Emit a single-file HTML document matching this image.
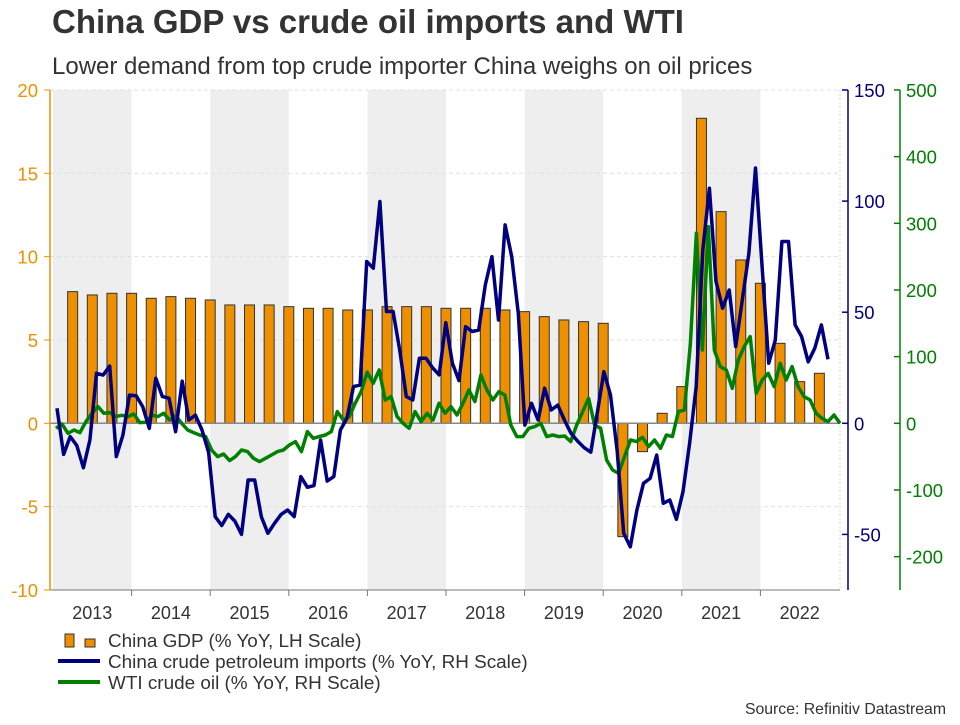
<!DOCTYPE html>
<html><head><meta charset="utf-8"><style>
body{margin:0;background:#fff;font-family:"Liberation Sans",Arial,sans-serif}
svg text{font-family:"Liberation Sans",Arial,sans-serif}
</style></head><body>
<svg id="chart" width="960" height="720" viewBox="0 0 960 720" xmlns="http://www.w3.org/2000/svg">
<text x="52" y="33" font-size="33" font-weight="bold" fill="#333">China GDP vs crude oil imports and WTI</text>
<text x="52" y="74" font-size="24" fill="#333">Lower demand from top crude importer China weighs on oil prices</text>
<g id="bands"></g>
<g id="grid"></g>
<g id="bars"></g>
<g id="lines"></g>
<g id="axes"></g>
<g>
 <rect x="65" y="634" width="9" height="13" fill="#ee8f00" stroke="#333" stroke-width="1"/>
 <rect x="85" y="639" width="10" height="8" fill="#ee8f00" stroke="#333" stroke-width="1"/>
 <text x="108" y="647" font-size="18.9" fill="#333">China GDP (% YoY, LH Scale)</text>
 <line x1="58" y1="661" x2="100" y2="661" stroke="#000080" stroke-width="4"/>
 <text x="108" y="668" font-size="18.9" fill="#333">China crude petroleum imports (% YoY, RH Scale)</text>
 <line x1="58" y1="682" x2="100" y2="682" stroke="#008000" stroke-width="4"/>
 <text x="108" y="689" font-size="18.9" fill="#333">WTI crude oil (% YoY, RH Scale)</text>
</g>
<text x="946" y="714" font-size="15.8" fill="#333" text-anchor="end">Source: Refinitiv Datastream</text>
</svg>
<script>
const years = [2013,2014,2015,2016,2017,2018,2019,2020,2021,2022];
const leftTicks = [20,15,10,5,0,-5,-10];
const navyTicks = [150,100,50,0,-50];
const greenTicks = [500,400,300,200,100,0,-100,-200];
const gdp = [7.9,7.7,7.8,7.8, 7.5,7.6,7.5,7.4, 7.1,7.1,7.1,7.0, 6.9,6.9,6.8,6.8, 7.0,7.0,7.0,6.9, 6.9,6.9,6.8,6.7, 6.4,6.2,6.1,6.0, -6.8,-1.7,0.6,2.2, 18.3,12.7,9.8,8.4, 4.8,2.5,3.0];
const imports = [6.8,-14,-6,-10,-20,-7.5,22.5,21.7,25.8,-15,-5.3,12.7,12.4,7.5,-2.3,20.3,12,11.3,-3.8,19,1.5,3.7,-3,-13,-42,-46,-41,-44,-50,-25.5,-25.5,-42,-49.5,-45,-41,-39,-42,-24,-28.8,-28,-7.5,-26,-24,-3,
 2.2,16.5,17.2,72.8,69.8,99.8,50.3,50.3,33,12,10.5,29.3,29.3,25,21.8,45.3,27,19.2,43.5,41.3,42,62.3,75,46.5,89.3,75,49.5,-0.8,9,1.5,15.8,6,8.2,1.5,-4.5,-8,-11,-13,5,23.2,12.7,
 -12,-49.5,-55.6,-39,-27,-24.8,-14.3,-36,-34.5,-43.2,-30.8,-9,16.5,78,105.8,63.8,51.8,60,34.5,55.5,76.6,114.9,70.5,27,37.5,81.8,81.8,44.3,39,27.7,33.8,44.3,28.8];
const wti = [-7.5,-1,-15,-10,-14,2.4,15,25,15,16,10,12,10,14,1,1.5,12.5,10,15,5,11.4,0,-10,-14,-17.5,-20,-40,-50,-46,-56,-50,-40,-42.5,-52.5,-57.5,-52.5,-47.5,-42.5,-40,-32.5,-27.5,-42.5,-12.5,-22.5,-20,-17.5,-12.5,17.5,
 5,10,30,47.5,77,60,80,35,40,10,0,-7.5,17.5,2.5,15,5,30,15,25,12.5,30,50,32.5,72.5,50,35,47.5,42.5,-2.5,-20,-20,-7.5,-5,0,-20,-17.5,-20,-19,-27.5,-2.5,17.5,37.5,-2.5,-7.5,-55,-70,-75,-50,
 -25,-27.5,-21,-35,-25,-37.5,-17.5,-20,17.5,20,120,285,110,295,110,85,80,52.5,95,115,130,45,65,75,55,90,65,85,55,40,35,15,7.5,2.5,12.5,0];

const NS="http://www.w3.org/2000/svg";
const PL=50, PR=840, PT=90, PB=590;
const yearX = y => 53 + (y-2013)*78.6;
const yL = v => 423.3 - v*16.667;
const yN = v => 423.3 - v*2.222;
const yG = v => 423.3 - v*0.6667;
function mk(tag, parent, attrs){const e=document.createElementNS(NS,tag);for(const k in attrs)e.setAttribute(k,attrs[k]);parent.appendChild(e);return e;}
const bands=document.getElementById('bands'),grid=document.getElementById('grid'),bars=document.getElementById('bars'),lines=document.getElementById('lines'),axes=document.getElementById('axes');
years.forEach((yr,i)=>{
  if(i%2===0){
    const x0=Math.max(PL,yearX(yr));
    const r=mk('rect',bands,{x:x0,y:PT,width:yearX(yr+1)-x0,height:PB-PT,fill:'#eeeeee'});
    
    
  }
  const t=mk('text',axes,{x:yearX(yr+0.5),y:619,'font-size':18,fill:'#333','text-anchor':'middle'});
  t.textContent=yr;
  
  
  if(i>0){const tk=mk('line',axes,{x1:yearX(yr),x2:yearX(yr),y1:PB,y2:PB+6,stroke:'#777'});
  
  }
});
leftTicks.forEach(v=>{
  if(v!==0&&v!==-10){const g=mk('line',grid,{x1:PL,x2:PR,y1:yL(v),y2:yL(v),stroke:'#e0e0e0','stroke-dasharray':'4,3'});
  
  }
  const t=mk('text',axes,{x:38,y:yL(v)+7,'font-size':18.5,fill:'#f09000','text-anchor':'end'});
  t.textContent=v;
  
  
  mk('line',axes,{x1:PL-6,x2:PL,y1:yL(v),y2:yL(v),stroke:'#f09000'});
});
mk('line',grid,{x1:PR,x2:PR,y1:PT,y2:PB,stroke:'#d8d8d8','stroke-dasharray':'2,2'});
const bw=10;
gdp.forEach((v,i)=>{
  const x=yearX(2013+(i+1)/4);
  const y0=yL(0),y1=yL(v);
  const b=mk('rect',bars,{x:x-bw/2,y:Math.min(y0,y1),width:bw,height:Math.abs(y1-y0),fill:'#ee8f00',stroke:'#333','stroke-width':1});
  
  
});
const zl=mk('line',lines,{x1:PL,x2:PR,y1:yL(0),y2:yL(0),stroke:'#888','stroke-width':1.5});


function series(arr,x0,x1,yf,color,name){
  const n=arr.length;
  const pts=arr.map((v,i)=>(x0+(x1-x0)*i/(n-1)).toFixed(1)+','+yf(v).toFixed(1)).join(' ');
  const p=mk('polyline',lines,{points:pts,fill:'none',stroke:color,'stroke-width':3.5,'stroke-linejoin':'round'});
  
  
}
series(wti,56,840,yG,'#008000','wti-line');
series(imports,57,828,yN,'#000080','imports-line');
mk('line',axes,{x1:PL,x2:PR,y1:PB,y2:PB,stroke:'#777','stroke-width':1});
mk('line',axes,{x1:PL,x2:PL,y1:PT,y2:PB,stroke:'#f09000','stroke-width':1.5});
mk('line',axes,{x1:848,x2:848,y1:PT,y2:PB,stroke:'#000080','stroke-width':1.5});
navyTicks.forEach(v=>{
  mk('line',axes,{x1:842,x2:848,y1:yN(v),y2:yN(v),stroke:'#000080','stroke-width':1.5});
  const t=mk('text',axes,{x:854,y:yN(v)+7,'font-size':18.5,fill:'#000080'});
  t.textContent=v;
  
  
});
mk('line',axes,{x1:900,x2:900,y1:PT,y2:PB,stroke:'#008000','stroke-width':1.5});
greenTicks.forEach(v=>{
  mk('line',axes,{x1:894,x2:900,y1:yG(v),y2:yG(v),stroke:'#008000','stroke-width':1.5});
  const t=mk('text',axes,{x:906,y:yG(v)+7,'font-size':18.5,fill:'#008000'});
  t.textContent=v;
  
  
});
</script>
</body></html>
